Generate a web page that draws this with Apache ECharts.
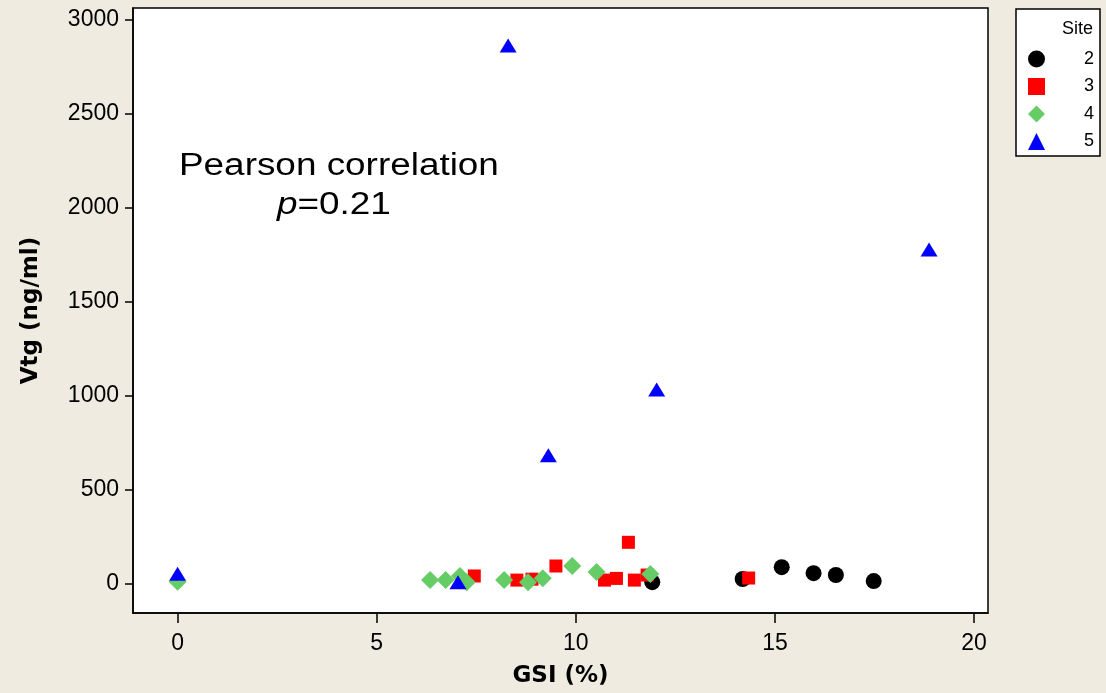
<!DOCTYPE html>
<html>
<head>
<meta charset="utf-8">
<script src="https://cdn.jsdelivr.net/npm/echarts@6/dist/echarts.min.js"></script>
<style>
  html, body { margin: 0; padding: 0; background: #EFEBE1; }
  #chart { width: 1106px; height: 693px; }
</style>
</head>
<body>
<div id="chart"></div>
<script>
// 数据：GSI (%) 与 Vtg (ng/ml)，按站点分组
const sites = ['2', '3', '4', '5']

const gsi2 = [11.92, 14.19, 15.17, 15.97, 16.53, 17.48]
const vtg2 = [10, 27, 90, 58, 48, 16]

const gsi3 = [7.45, 8.52, 8.90, 9.50, 11.32, 10.72, 11.02, 11.47, 11.79, 14.34]
const vtg3 = [43, 21, 26, 96, 222, 21, 30, 21, 48, 32]

const gsi4 = [0, 6.34, 6.73, 7.09, 7.26, 8.20, 8.80, 9.17, 9.91, 10.52, 11.87]
const vtg4 = [12, 21, 21, 43, 10, 21, 10, 31, 96, 64, 53]

const gsi5 = [0, 7.04, 8.30, 9.31, 12.03, 18.87]
const vtg5 = [55, 10, 2865, 685, 1035, 1780]

const xTicks = [0, 5, 10, 15, 20]
const yTicks = [0, 500, 1000, 1500, 2000, 2500, 3000]

const pairs = (xs, ys) => xs.map((x, i) => [x, ys[i]])

const font = 'Liberation Sans, Arial, sans-serif'
const boldFont = 'DejaVu Sans, Verdana, sans-serif'
const chart = echarts.init(document.getElementById('chart'))

const option = {
  backgroundColor: '#EFEBE1',
  animation: false,
  grid: {
    left: 133, right: 118, top: 8, bottom: 80,
    show: true, backgroundColor: '#fff', borderColor: '#000', borderWidth: 1.5,
  },
  xAxis: {
    type: 'value',
    min: -1.12,
    max: 20.35,
    name: 'GSI (%)',
    nameLocation: 'middle',
    nameGap: 52,
    nameTextStyle: { fontFamily: boldFont, fontSize: 23, fontWeight: 'bold', color: '#000' },
    axisLine: { show: true, onZero: false, lineStyle: { color: '#000', width: 1.5 } },
    axisTick: { show: true, length: 10, customValues: xTicks, lineStyle: { color: '#000', width: 1.5 } },
    axisLabel: { customValues: xTicks, margin: 19, fontFamily: font, fontSize: 23, color: '#000', formatter: v => String(v) },
    splitLine: { show: false },
  },
  yAxis: {
    type: 'value',
    min: -154,
    max: 3064,
    name: 'Vtg (ng/ml)',
    nameLocation: 'middle',
    nameRotate: 90,
    nameGap: 90,
    nameTextStyle: { fontFamily: boldFont, fontSize: 23, fontWeight: 'bold', color: '#000' },
    axisLine: { show: true, onZero: false, lineStyle: { color: '#000', width: 1.5 } },
    axisTick: { show: true, length: 8, customValues: yTicks, lineStyle: { color: '#000', width: 1.5 } },
    axisLabel: { customValues: yTicks, margin: 14, fontFamily: font, fontSize: 23, color: '#000', formatter: v => String(v) },
    splitLine: { show: false },
  },
  legend: {
    orient: 'vertical',
    left: 1016,
    top: 9,
    padding: [41, 6, 11, 12],
    itemWidth: 17,
    itemHeight: 17,
    itemGap: 9.5,
    data: sites,
    formatter: name => '{n|' + name + '}',
    textStyle: {
      fontFamily: font, fontSize: 18, color: '#000',
      rich: { n: { width: 44, align: 'right', fontFamily: font, fontSize: 18 } },
    },
  },
  graphic: [
    {
      type: 'rect', z: -1,
      shape: { x: 1016, y: 9, width: 84, height: 147 },
      style: { fill: '#fff', stroke: '#000', lineWidth: 1.5 },
    },
    {
      type: 'text', z: 10, x: 1062, y: 20,
      style: { text: 'Site', font: '18px ' + font, fill: '#000', textVerticalAlign: 'top' },
    },
    {
      type: 'text', z: 10, x: 179, y: 151, scaleX: 1.19,
      style: { text: 'Pearson correlation', font: '31px ' + font, fill: '#000', textVerticalAlign: 'top' },
    },
    {
      type: 'text', z: 10, x: 277, y: 190, scaleX: 1.19,
      style: {
        text: '{i|p}=0.21',
        font: '31px ' + font,
        fill: '#000',
        textVerticalAlign: 'top',
        rich: { i: { fontStyle: 'italic', fontSize: 31, fontFamily: font } },
      },
    },
  ],
  series: [
    { name: '2', type: 'scatter', symbol: 'circle', symbolSize: 16, itemStyle: { color: '#000', opacity: 1 }, data: pairs(gsi2, vtg2) },
    { name: '3', type: 'scatter', symbol: 'rect', symbolSize: 13, itemStyle: { color: '#FF0000', opacity: 1 }, data: pairs(gsi3, vtg3) },
    { name: '4', type: 'scatter', symbol: 'diamond', symbolSize: 18, itemStyle: { color: '#66CC66', opacity: 1 }, data: pairs(gsi4, vtg4) },
    { name: '5', type: 'scatter', symbol: 'triangle', symbolSize: [17, 14], itemStyle: { color: '#0000FF', opacity: 1 }, data: pairs(gsi5, vtg5) },
  ],
}

chart.setOption(option)
</script>
</body>
</html>
